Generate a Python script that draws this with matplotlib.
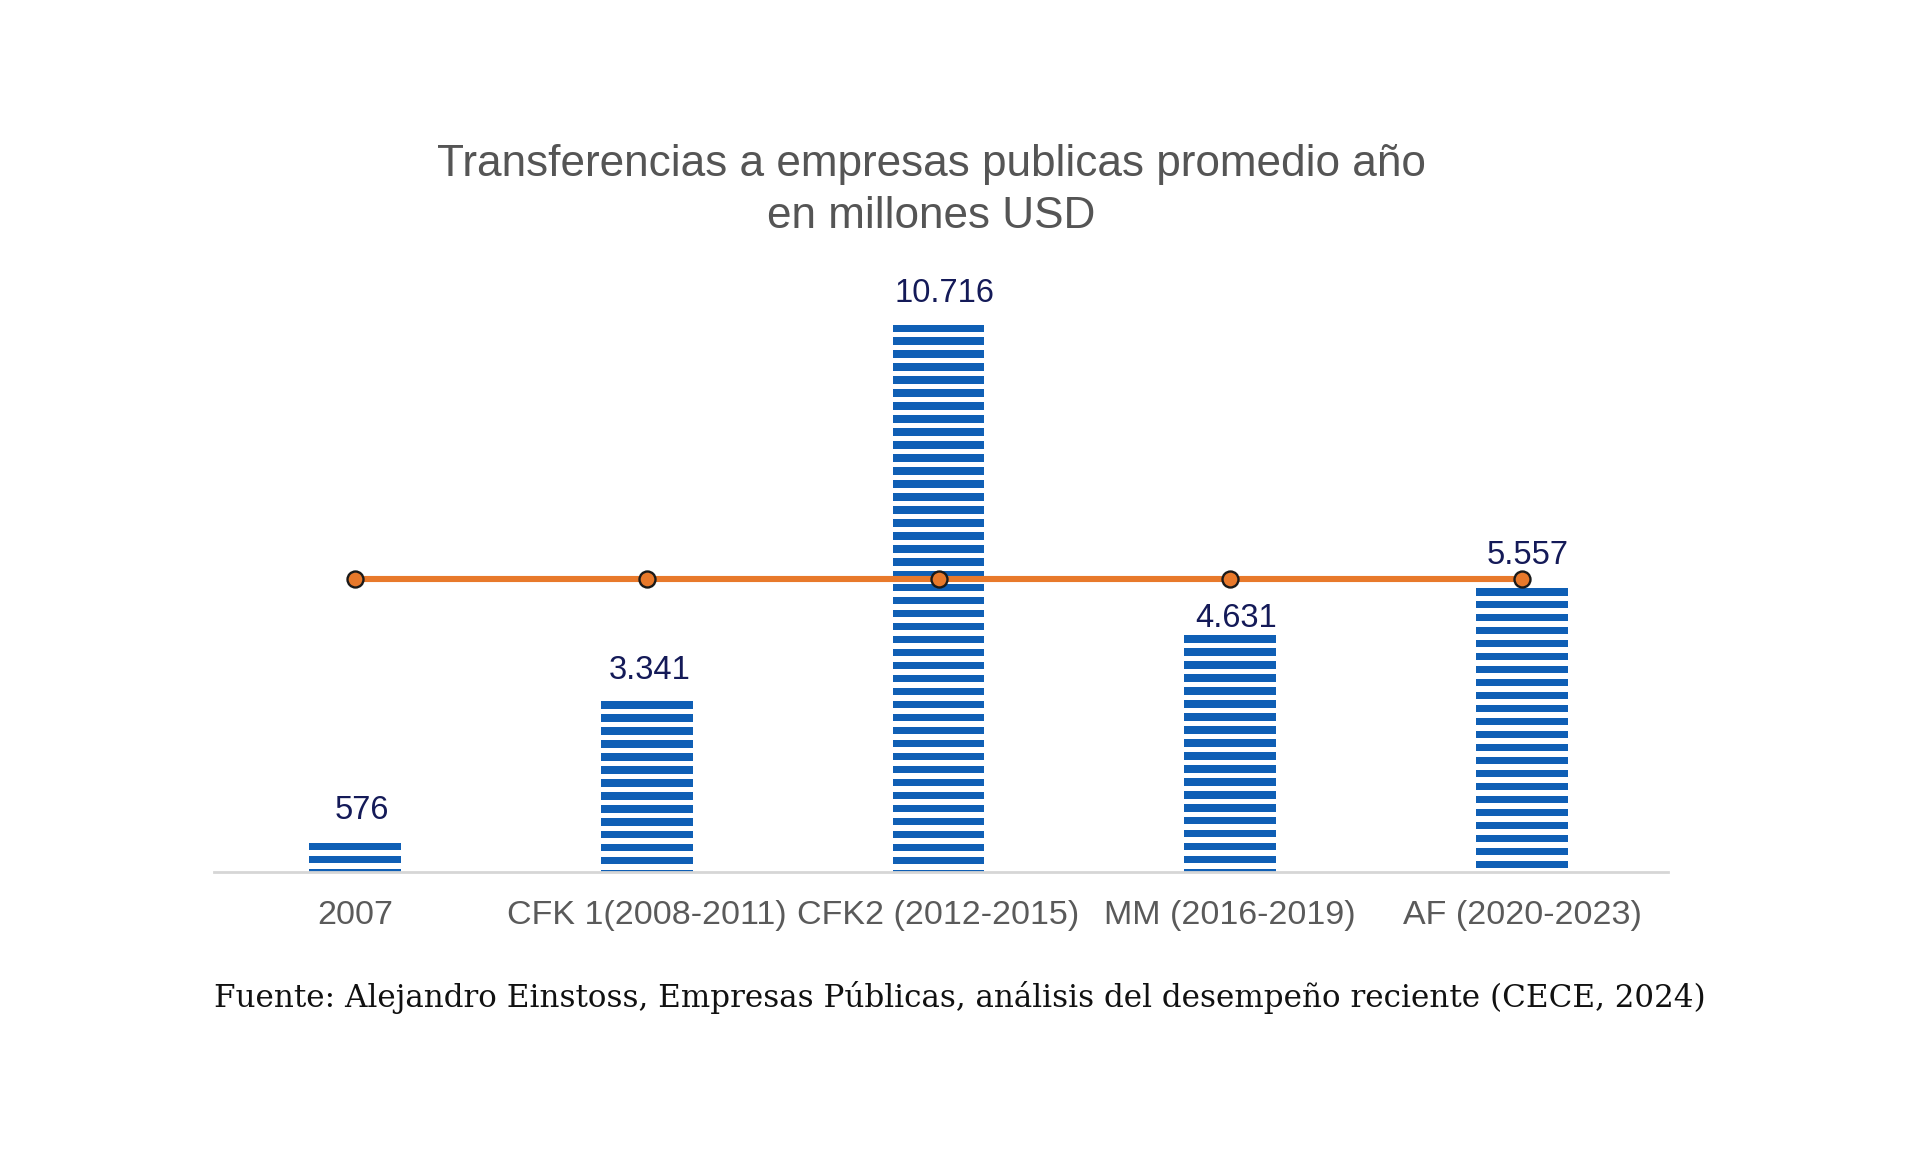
import matplotlib
matplotlib.use("Agg")
import matplotlib.pyplot as plt
import numpy as np

# ---- data ----
categories = ["2007", "CFK 1(2008-2011)", "CFK2 (2012-2015)", "MM (2016-2019)", "AF (2020-2023)"]
values = [576, 3341, 10716, 4631, 5557]
value_labels = ["576", "3.341", "10.716", "4.631", "5.557"]
line_values = [5730, 5730, 5730, 5730, 5730]

title_lines = ["Transferencias a empresas publicas promedio año", "en millones USD"]
source = "Fuente: Alejandro Einstoss, Empresas Públicas, análisis del desempeño reciente (CECE, 2024)"

# ---- style ----
BAR_BLUE = "#0f5fb5"
LABEL_NAVY = "#141a58"
TICK_GRAY = "#5a5a5a"
TITLE_GRAY = "#555555"
ORANGE = "#e8792b"
AXIS_GRAY = "#d6d6d6"

plt.rcParams["font.family"] = ["Liberation Sans", "DejaVu Sans"]

W, H, DPI = 1920, 1149, 100
fig = plt.figure(figsize=(W / DPI, H / DPI), dpi=DPI)
fig.patch.set_facecolor("white")

# axes placement in pixels
ax_left, ax_right = 214, 1668
ax_bottom_px = 872       # from top
ymax = 12000
px_per_unit = 0.05109
ax_h = ymax * px_per_unit
ax = fig.add_axes([ax_left / W, (H - ax_bottom_px) / H, (ax_right - ax_left) / W, ax_h / H])

x = np.arange(len(categories))
bar_w = 0.315
period = 254      # stripe period in data units
thick = 145       # stripe thickness in data units

for xi, v in zip(x, values):
    tops = np.arange(v, 0, -period)
    bottoms = np.maximum(tops - thick, 0)
    ax.bar(np.full(len(tops), xi), tops - bottoms, bottom=bottoms, width=bar_w,
           color=BAR_BLUE, linewidth=0, zorder=2)

ax.plot(x, line_values, color=ORANGE, linewidth=4.4, zorder=3,
        marker="o", markersize=11.5, markerfacecolor=ORANGE,
        markeredgecolor="#1a1a1a", markeredgewidth=1.7)

label_offsets = [(5, 12), (2, 11), (4, 11), (4, 1), (4, 12)]
for xi, v, lab, (dx, dy) in zip(x, values, value_labels, label_offsets):
    ax.annotate(lab, (xi, v), xytext=(dx, dy), textcoords="offset points",
                ha="center", va="bottom", fontsize=23.5, color=LABEL_NAVY, zorder=4)

ax.set_xlim(-0.483, 4.5)
ax.set_ylim(0, ymax)
for s in ["top", "right", "left"]:
    ax.spines[s].set_visible(False)
ax.spines["bottom"].set_color(AXIS_GRAY)
ax.spines["bottom"].set_linewidth(2)
ax.set_yticks([])
ax.set_xticks(x)
ax.set_xticklabels(categories, fontsize=24.5, color=TICK_GRAY)
ax.tick_params(axis="x", length=0, pad=20)

fig.text(931 / W, 1 - 165 / H, title_lines[0], ha="center", va="center",
         fontsize=31.8, color=TITLE_GRAY)
fig.text(931 / W, 1 - 217 / H, title_lines[1], ha="center", va="center",
         fontsize=31.8, color=TITLE_GRAY)

fig.text(960 / W, 1 - 998 / H, source, ha="center", va="center",
         fontsize=22.3, color="#111111", family=["DejaVu Serif"])

fig.savefig("out.png", dpi=DPI, facecolor="white")
